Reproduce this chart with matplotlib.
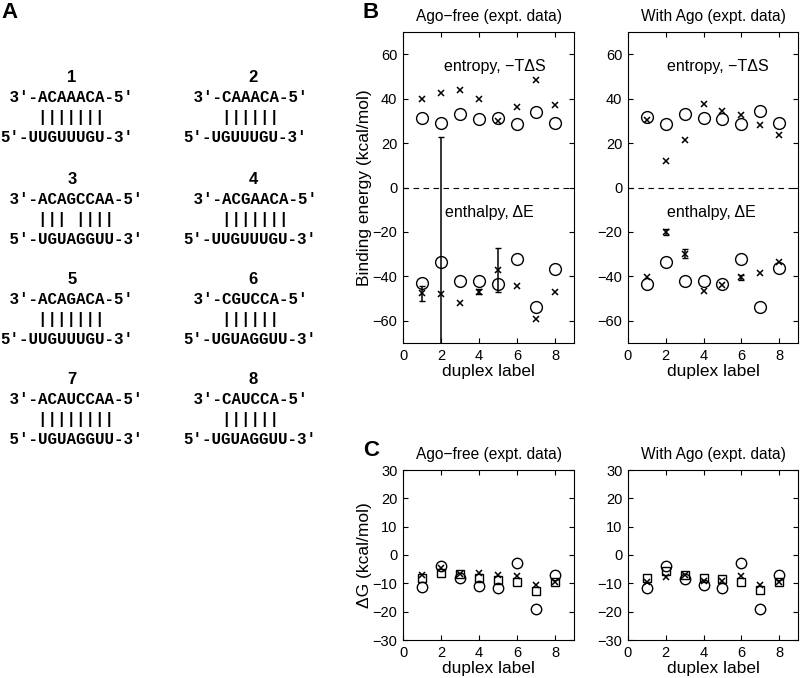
import numpy as np
import matplotlib
matplotlib.use("Agg")
import matplotlib.pyplot as plt

plt.rcParams['font.family'] = ['Liberation Sans', 'DejaVu Sans']

# ---------------- data ----------------
duplex = np.arange(1, 9)

# Panel A: duplex sequences (guide 3'->5', target 5'->3'), pairing marks, target offset
guide = ["ACAAACA", "CAAACA", "ACAGCCAA", "ACGAACA", "ACAGACA", "CGUCCA", "ACAUCCAA", "CAUCCA"]
target = ["UUGUUUGU", "UGUUUGU", "UGUAGGUU", "UUGUUUGU", "UUGUUUGU", "UGUAGGUU", "UGUAGGUU", "UGUAGGUU"]
pairs = ["|||||||", "||||||", "||| ||||", "|||||||", "|||||||", "||||||", "||||||||", "||||||"]
target_shift = [1, 1, 0, 1, 1, 1, 0, 1]

# Panel B: binding energies (kcal/mol)
free_TS_circ = [31.4, 29.0, 33.2, 30.8, 31.3, 28.7, 34.0, 28.9]
free_TS_x = [40.0, 42.7, 44.1, 40.0, 29.9, 36.2, 48.3, 37.3]
free_E_circ = [-43.0, -33.4, -42.0, -42.0, -43.5, -32.0, -53.7, -36.7]
free_E_circ_err = [0, 56.1, 0, 0, 0, 0, 0, 0]
free_E_x = [-47.7, -48.0, -52.2, -46.9, -37.1, -44.2, -59.2, -46.9]
free_E_x_err = [3.5, 0, 0, 1.2, 10.0, 0, 0, 0]

ago_TS_circ = [31.7, 28.7, 33.2, 31.4, 31.0, 28.7, 34.3, 29.0]
ago_TS_x = [30.2, 11.9, 21.5, 37.4, 34.3, 32.5, 28.0, 23.8]
ago_E_circ = [-43.5, -33.4, -42.0, -42.0, -43.5, -32.2, -53.7, -36.4]
ago_E_circ_err = [0, 0, 0, 0, 0, 0, 0, 0]
ago_E_x = [-40.2, -20.2, -29.9, -46.8, -43.7, -40.5, -38.6, -33.4]
ago_E_x_err = [0, 1.3, 2.0, 0, 0, 1.2, 0, 0]

# Panel C: free energies (kcal/mol)
free_G_circ = [-11.4, -3.8, -8.2, -10.8, -11.8, -2.9, -19.1, -7.2]
free_G_x = [-7.1, -4.7, -6.7, -6.2, -7.1, -7.4, -10.6, -9.4]
free_G_sq = [-8.2, -6.2, -6.7, -8.2, -8.8, -9.6, -12.6, -9.6]
ago_G_circ = [-11.5, -3.8, -8.4, -10.5, -11.7, -2.8, -19.0, -7.0]
ago_G_x = [-9.7, -7.9, -7.0, -9.3, -9.3, -7.3, -10.5, -9.7]
ago_G_sq = [-8.2, -5.8, -7.0, -8.2, -8.5, -9.6, -12.3, -9.6]

titles = ["Ago\u2212free (expt. data)", "With Ago (expt. data)"]

# ---------------- figure ----------------
W, H = 800, 678
fig = plt.figure(figsize=(W / 100, H / 100), dpi=100)

# overlay axes in pixel coordinates for panel A and letters
ov = fig.add_axes([0, 0, 1, 1])
ov.set_xlim(0, W)
ov.set_ylim(H, 0)
ov.axis('off')

mono = dict(family='Liberation Mono', fontweight='bold', fontsize=11.4)
char_w = 9.5
col_x = [10, 193]
num_x = [72, 253]
row_y = [98, 200, 300, 400]
for i in range(8):
    c = i % 2
    r = i // 2
    x0 = col_x[c] - char_w
    y0 = row_y[r]
    ov.text(num_x[c], y0 - 21, str(i + 1), ha='center', va='center',
            fontsize=12, fontweight='bold')
    ov.text(x0, y0, " 3'-" + guide[i] + "-5'", ha='left', va='center', **mono)
    ov.text(x0, y0 + 19.5, "    " + pairs[i], ha='left', va='center', **mono)
    ov.text(x0, y0 + 39, " " * (1 - target_shift[i]) + "5'-" + target[i] + "-3'",
            ha='left', va='center', **mono)

ov.text(10, 12, "A", ha='center', va='center', fontsize=16, fontweight='bold')
ov.text(371, 12, "B", ha='center', va='center', fontsize=16, fontweight='bold')
ov.text(371, 450, "C", ha='center', va='center', fontsize=16, fontweight='bold')


def px_axes(x0, x1, y0, y1):
    return fig.add_axes([x0 / W, 1 - y1 / H, (x1 - x0) / W, (y1 - y0) / H])


def style(ax, yticks, ylim):
    ax.set_xlim(0, 9)
    ax.set_ylim(*ylim)
    ax.set_xticks([0, 2, 4, 6, 8])
    ax.set_yticks(yticks)
    ax.tick_params(direction='in', top=True, right=True, length=3.5, width=0.8,
                   labelsize=10.5, pad=4)
    for s in ax.spines.values():
        s.set_linewidth(0.8)
    ax.set_xlabel("duplex label", fontsize=12.5, labelpad=1)


def errs(ax, x, y, e):
    x = np.asarray(x); y = np.asarray(y); e = np.asarray(e)
    m = e > 0
    if m.any():
        ax.errorbar(x[m], y[m], yerr=e[m], fmt='none', ecolor='k',
                    elinewidth=1.1, capsize=2, capthick=1)


circ = dict(ls='none', marker='o', ms=8.5, mfc='none', mec='k', mew=1.0)
cross = dict(ls='none', marker='x', ms=5, mec='k', mew=1.1)

B_data = [
    (free_TS_circ, free_TS_x, free_E_circ, free_E_circ_err, free_E_x, free_E_x_err),
    (ago_TS_circ, ago_TS_x, ago_E_circ, ago_E_circ_err, ago_E_x, ago_E_x_err),
]
C_data = [(free_G_circ, free_G_x, free_G_sq), (ago_G_circ, ago_G_x, ago_G_sq)]
xs = [(403, 574), (628, 798)]
ent_pos = [(4.85, 54.3), (4.76, 54.3)]
enth_pos = [(4.55, -11.1), (4.4, -11.1)]

for k in range(2):
    ax = px_axes(xs[k][0], xs[k][1], 32, 343)
    tsc, tsx, ec, ece, ex, exe = B_data[k]
    ax.axhline(0, color='k', lw=0.8, ls=(0, (5, 4)))
    errs(ax, duplex, ec, ece)
    errs(ax, duplex, ex, exe)
    ax.plot(duplex, tsc, **circ)
    ax.plot(duplex, tsx, **cross)
    ax.plot(duplex, ec, **circ)
    ax.plot(duplex, ex, **cross)
    ax.text(*ent_pos[k], "entropy, \u2212T\u0394S", ha='center', va='center', fontsize=11.5)
    ax.text(*enth_pos[k], "enthalpy, \u0394E", ha='center', va='center', fontsize=11.5)
    style(ax, np.arange(-60, 61, 20), (-70, 70))
    ax.set_title(titles[k], fontsize=11.2, pad=8)
    if k == 0:
        ax.set_ylabel("Binding energy (kcal/mol)", fontsize=12.5)
        ax.yaxis.set_label_coords((372 - 403) / 171, 0.5)

    axc = px_axes(xs[k][0], xs[k][1], 470, 640)
    gc, gx, gs = C_data[k]
    axc.plot(duplex, gc, ls='none', marker='o', ms=7.5, mfc='none', mec='k', mew=1.0)
    axc.plot(duplex, gs, ls='none', marker='s', ms=5.5, mfc='none', mec='k', mew=1.0)
    axc.plot(duplex, gx, **cross)
    style(axc, np.arange(-30, 31, 10), (-30, 30))
    axc.set_title(titles[k], fontsize=11.2, pad=8)
    if k == 0:
        axc.set_ylabel("\u0394G (kcal/mol)", fontsize=12.5)
        axc.yaxis.set_label_coords((372 - 403) / 171, 0.5)

fig.savefig("out.png", dpi=100)
